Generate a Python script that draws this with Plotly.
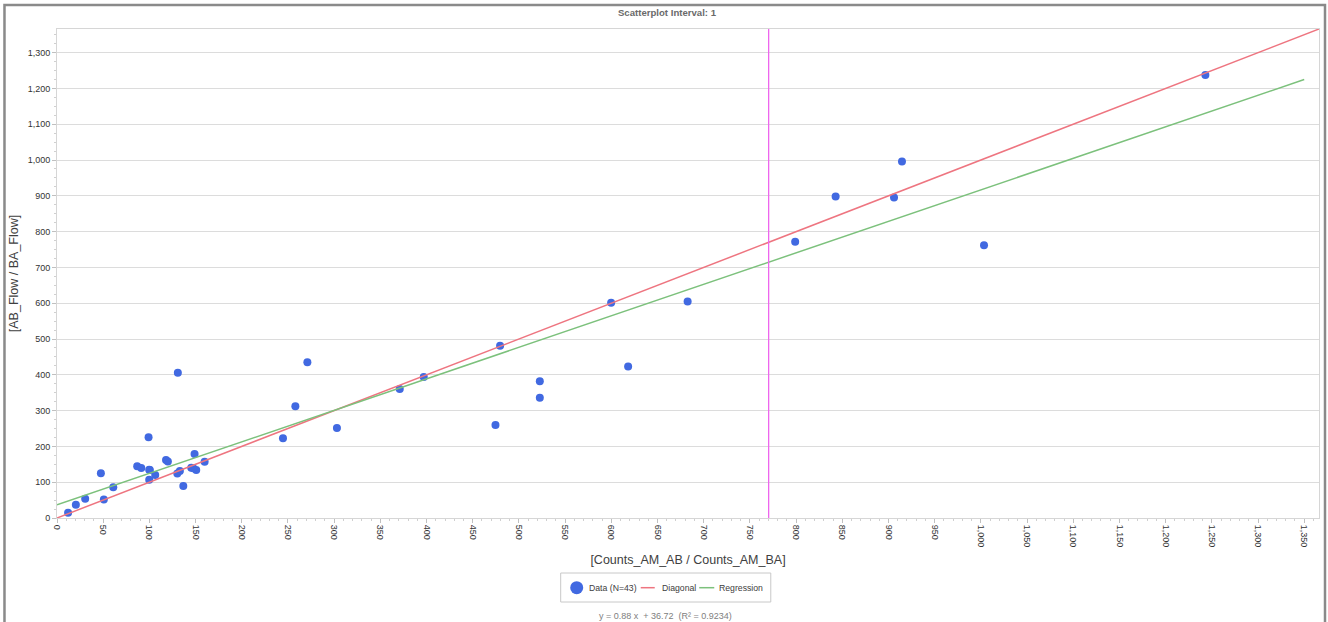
import plotly.graph_objects as go

# ---- data ----
x_vals = [12, 20.4, 30.5, 47.5, 50.7, 60.9, 86.8, 91.2, 99.1, 99.8, 99.8, 106.3,
          118, 120, 130.2, 133, 136.7, 145.3, 148.9, 150.7, 159.8, 130.8,
          244.6, 258, 271, 303, 371, 397, 479.6, 474.6, 522.6, 522.6,
          599.8, 618.2, 682.6, 799, 842.8, 906, 914.6, 1003.4, 1243,
          100.5, 147.5]
y_vals = [15, 37, 54, 125, 52, 86, 144.5, 140, 225.6, 135, 107, 120,
          162, 158, 124, 131, 89.5, 140.6, 179, 134, 157.4, 406,
          222.8, 312, 435, 251.6, 360.6, 394, 481, 260, 382, 336,
          601, 423, 604.7, 771.6, 898, 895, 996, 762, 1237.6,
          134, 139]

axis_max = 1366
reg_slope = 0.88
reg_intercept = 36.72
r_squared = 0.9234
reg_x_end = 1350
marker_x = 770.3

x_ticks = list(range(0, 1351, 50))
y_ticks = list(range(0, 1301, 100))

FONT = "Liberation Sans"
BLUE = "#4169E1"
PINK = "#ee7580"
GREEN = "#7cc17c"

# plot-area geometry (pixels) used to place legend / frame in paper coords
PL, PR, PT, PB = 57.5, 1319, 29, 518
W, H = 1328, 622


def px_x(p):
    return (p - PL) / (PR - PL)


def px_y(p):
    return (PB - p) / (PB - PT)


fig = go.Figure()

fig.add_trace(go.Scatter(
    x=x_vals, y=y_vals, mode="markers", name=f"Data (N={len(x_vals)})",
    marker=dict(color=BLUE, size=8), showlegend=False))
fig.add_trace(go.Scatter(
    x=[0, axis_max], y=[0, axis_max], mode="lines", name="Diagonal",
    line=dict(color=PINK, width=1.5), showlegend=False))
fig.add_trace(go.Scatter(
    x=[0, reg_x_end], y=[reg_intercept, reg_slope * reg_x_end + reg_intercept],
    mode="lines", name="Regression", line=dict(color=GREEN, width=1.5),
    showlegend=False))

# vertical marker line
fig.add_shape(type="line", xref="x", yref="paper", x0=marker_x, x1=marker_x,
              y0=0, y1=1, line=dict(color="#ee66ee", width=1.3), layer="above")

# outer frame
fig.add_shape(type="rect", xref="paper", yref="paper",
              x0=px_x(5), x1=px_x(1325), y0=px_y(660), y1=px_y(5),
              line=dict(color="#8a8a8a", width=2.5))

# custom legend
ly = 587.7
fig.add_shape(type="rect", xref="paper", yref="paper",
              x0=px_x(561), x1=px_x(771), y0=px_y(602), y1=px_y(573),
              line=dict(color="#c8c8c8", width=1), fillcolor="white")
fig.add_shape(type="circle", xref="paper", yref="paper",
              x0=px_x(570.5), x1=px_x(583.5), y0=px_y(ly + 6.5), y1=px_y(ly - 6.5),
              line=dict(width=0), fillcolor=BLUE)
fig.add_shape(type="line", xref="paper", yref="paper",
              x0=px_x(641), x1=px_x(655), y0=px_y(ly), y1=px_y(ly),
              line=dict(color=PINK, width=1.5))
fig.add_shape(type="line", xref="paper", yref="paper",
              x0=px_x(699.5), x1=px_x(714.5), y0=px_y(ly), y1=px_y(ly),
              line=dict(color=GREEN, width=1.5))
for label, xp in [(f"Data (N={len(x_vals)})", 587), ("Diagonal", 660), ("Regression", 717)]:
    fig.add_annotation(text=label, xref="paper", yref="paper", x=px_x(xp), y=px_y(ly),
                       xanchor="left", yanchor="middle", showarrow=False,
                       font=dict(family=FONT, size=8.7, color="#404040"))

fig.add_annotation(
    text=f"y = {reg_slope:.2f} x  + {reg_intercept:.2f}  (R² = {r_squared:.4f})",
    xref="paper", yref="paper", x=px_x(666), y=px_y(616),
    xanchor="center", yanchor="middle",
    showarrow=False, font=dict(family=FONT, size=9, color="#808080"))

fig.update_layout(
    width=W, height=H,
    margin=dict(l=57, r=9, t=29, b=104),
    paper_bgcolor="white", plot_bgcolor="white",
    font=dict(family=FONT, size=9, color="#404040"),
    showlegend=False,
    title=dict(text="<b>Scatterplot Interval: 1</b>", x=667 / W, xanchor="center",
               y=1 - 13 / H, yanchor="middle",
               font=dict(family=FONT, size=9.6, color="#6a6a6a")),
    xaxis=dict(range=[0, axis_max], tickvals=x_ticks, tickformat=",d",
               tickangle=90, showgrid=False, zeroline=False,
               showline=True, linecolor="#d6d6d6", mirror=True,
               ticks="outside", ticklen=4, tickcolor="#c0c0c0",
               minor=dict(dtick=10, ticks="outside", ticklen=2, tickcolor="#d0d0d0"),
               tickfont=dict(family=FONT, size=9, color="#333333"),
               title=dict(text="[Counts_AM_AB / Counts_AM_BA]", standoff=8,
                          font=dict(family=FONT, size=12.5, color="#404040"))),
    yaxis=dict(range=[0, axis_max], tickvals=y_ticks, tickformat=",d",
               showgrid=True, gridcolor="#dcdcdc", zeroline=False,
               showline=True, linecolor="#d6d6d6", mirror=True,
               ticks="outside", ticklen=4, tickcolor="#c0c0c0",
               minor=dict(dtick=25, ticks="outside", ticklen=2, tickcolor="#d0d0d0",
                          showgrid=False),
               tickfont=dict(family=FONT, size=9, color="#333333"),
               title=dict(text="[AB_Flow / BA_Flow]", standoff=6,
                          font=dict(family=FONT, size=12.5, color="#404040"))),
)

fig.write_html("out.html", config={"displayModeBar": False},
               post_script="document.body.style.margin='0';")
